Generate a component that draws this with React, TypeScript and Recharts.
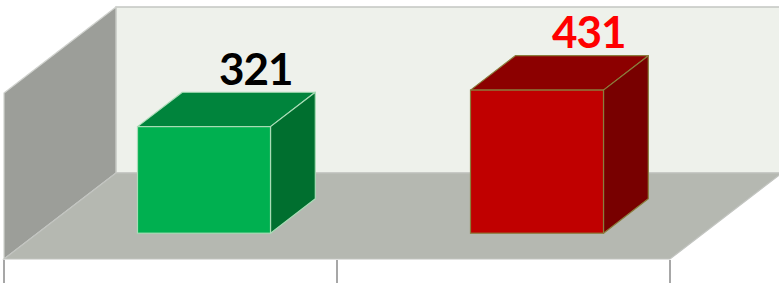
import React from 'react';
import { BarChart, Bar, XAxis, YAxis, ReferenceArea, LabelList } from 'recharts';

const categories = ['A', 'B'];
const values = [321, 431];
const labelColors = ['#000000', '#ff0000'];
const frontColors = ['#00b050', '#c00000'];
const topColors = ['#00843c', '#8c0000'];
const sideColors = ['#006f2f', '#780000'];
const edgeColors = ['#a9dcb6', '#8a7d3c'];
const yDomain = [0, 500];

const data = categories.map((c, i) => ({ name: c, value: values[i], idx: i }));

const DX = 112;
const DY = -86;
const FRONT = 0.3;
const BACK = 0.7;
const TICK_LEN = 24;

const Walls = (props: any) => {
  const { x, y, width, height } = props;
  const by = y + height;
  const n = categories.length;
  const tickXs = Array.from({ length: n + 1 }, (_, k) => x + (width * k) / n);
  return (
    <g>
      <rect x={x + DX} y={y + DY} width={width} height={height} fill="#eef1eb" stroke="#c4c6c2" strokeWidth={1.5} />
      <path
        d={`M${x},${y} L${x + DX},${y + DY} L${x + DX},${by + DY} L${x},${by} Z`}
        fill="#9c9e99"
        stroke="#d0d2ce"
        strokeWidth={1.2}
      />
      <path
        d={`M${x},${by} L${x + DX},${by + DY} L${x + width + DX},${by + DY} L${x + width},${by} Z`}
        fill="#b5b8b1"
        stroke="#c2c4c0"
        strokeWidth={1.2}
      />
      {tickXs.map((tx, k) => (
        <line key={k} x1={tx} y1={by + 1} x2={tx} y2={by + TICK_LEN} stroke="#8a8a8a" strokeWidth={1.5} />
      ))}
    </g>
  );
};

const Box3D = (props: any) => {
  const { x, y, width, height, payload } = props;
  const i = payload && typeof payload.idx === 'number' ? payload.idx : props.index;
  const fx = x + FRONT * DX;
  const fy = y + FRONT * DY;
  const bx = (BACK - FRONT) * DX;
  const byy = (BACK - FRONT) * DY;
  const top = `M${fx},${fy} L${fx + bx},${fy + byy} L${fx + width + bx},${fy + byy} L${fx + width},${fy} Z`;
  const side = `M${fx + width},${fy} L${fx + width + bx},${fy + byy} L${fx + width + bx},${fy + height + byy} L${fx + width},${fy + height} Z`;
  return (
    <g>
      <path d={top} fill={topColors[i]} stroke={edgeColors[i]} strokeWidth={1.2} strokeLinejoin="round" />
      <path d={side} fill={sideColors[i]} stroke={edgeColors[i]} strokeWidth={1.2} strokeLinejoin="round" />
      <rect x={fx} y={fy} width={width} height={height} fill={frontColors[i]} stroke={edgeColors[i]} strokeWidth={1.2} />
    </g>
  );
};

const ValueLabel = (props: any) => {
  const { x, y, width, value, index } = props;
  const cx = x + width / 2 + BACK * DX + 7;
  const baseY = y + FRONT * DY - 42;
  return (
    <text
      x={cx}
      y={baseY}
      textAnchor="middle"
      fill={labelColors[index]}
      fontFamily="Lato, 'Open Sans', sans-serif"
      fontWeight={700}
      fontSize={44}
      letterSpacing={-1}
    >
      {value}
    </text>
  );
};

export default function App() {
  return (
    <div style={{ position: 'fixed', left: 0, top: 0, width: 779, height: 283, background: '#ffffff' }}>
      <BarChart
        width={779}
        height={283}
        data={data}
        margin={{ top: 93, right: 109, bottom: 24, left: 4 }}
        barCategoryGap="30%"
      >
        <XAxis dataKey="name" hide />
        <YAxis hide domain={yDomain} />
        <ReferenceArea y1={yDomain[0]} y2={yDomain[1]} shape={<Walls />} />
        <Bar dataKey="value" shape={<Box3D />} isAnimationActive={false}>
          <LabelList dataKey="value" content={<ValueLabel />} />
        </Bar>
      </BarChart>
    </div>
  );
}
